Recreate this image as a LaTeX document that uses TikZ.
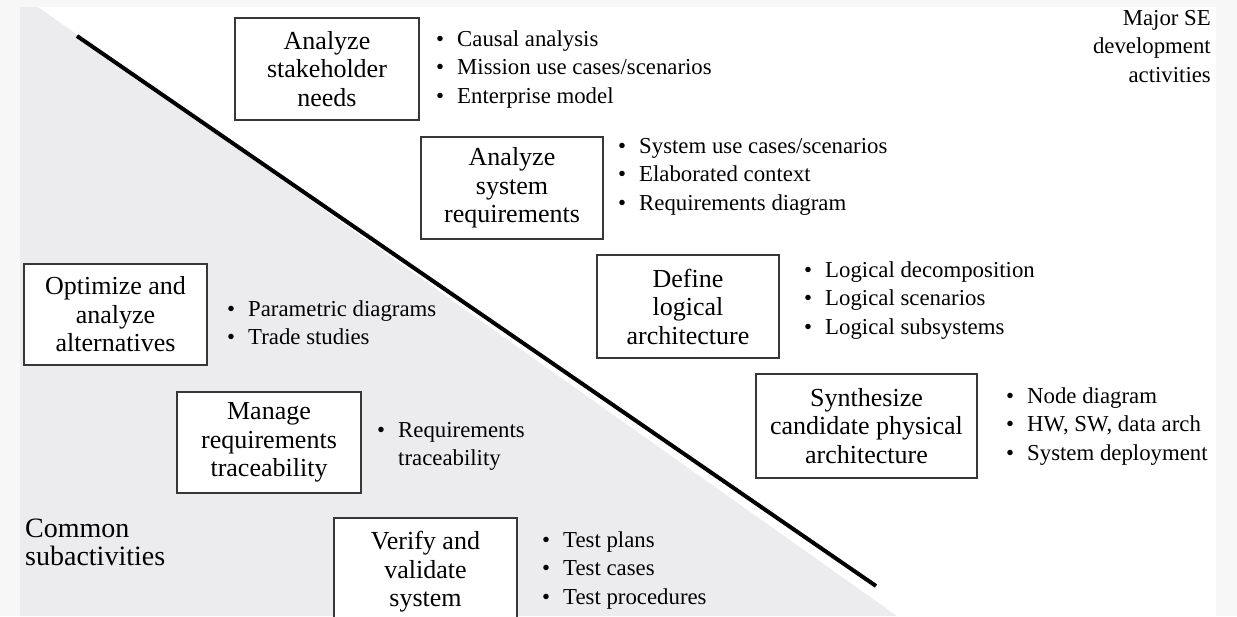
\documentclass[tikz,border=0pt]{standalone}
\usepackage{fontspec}
\setmainfont{Liberation Serif}
\definecolor{framegray}{RGB}{247,247,247}
\definecolor{panelgray}{RGB}{236,236,238}
\definecolor{boxline}{RGB}{55,55,55}
\newcommand\bulletitem{\llap{\textbullet\hspace{13pt}}}
\begin{document}
\begin{tikzpicture}[x=1pt,y=-1pt,
  box/.style={draw=boxline, line width=2.2pt, fill=white, inner sep=0pt,
    align=center, font=\fontsize{26}{28.5}\selectfont},
  items/.style={anchor=base west, inner sep=0pt,
    font=\fontsize{22.8}{28.5}\selectfont},
  caption/.style={inner sep=0pt, font=\fontsize{22.8}{28.5}\selectfont}]
\useasboundingbox (0,0) rectangle (1237,616);
\clip (0,0) rectangle (1237,616);

% page and the shaded region of common subactivities
\fill[framegray] (0,0) rectangle (1237,616);
\fill[white] (20,7) rectangle (1216,616);
\fill[panelgray] (20,7) -- (38,7) -- (897,616) -- (20,616) -- cycle;

% dividing line
\coordinate (ls) at (77,36);
\coordinate (le) at (876,586);
\draw[line width=4pt] (ls) -- (le);

% major development activities
\node[box, minimum width=184pt, minimum height=102pt] (need) at (327,69)
  {Analyze\\stakeholder\\needs};
\node[box, minimum width=182pt, minimum height=102pt] (sysreq) at (512,188)
  {Analyze\\system\\requirements};
\node[box, minimum width=182pt, minimum height=103pt] (logic) at (688,306.5)
  {Define\\logical\\architecture};
\node[box, minimum width=221pt, minimum height=104pt] (phys) at (866.5,426)
  {Synthesize\\candidate physical\\architecture};

% common subactivities
\node[box, minimum width=183pt, minimum height=101pt] (opt) at (115.5,314.5)
  {Optimize and\\analyze\\alternatives};
\node[box, minimum width=184pt, minimum height=101pt] (trace) at (269,442.5)
  {Manage\\requirements\\traceability};
\node[box, minimum width=183pt, minimum height=108pt] (vv) at (425.5,572)
  {Verify and\\validate\\system};

% outputs of each activity
\node[items] (needout) at (457,46) {\begin{tabular}[t]{@{}l@{}}
  \bulletitem Causal analysis\\
  \bulletitem Mission use cases/scenarios\\
  \bulletitem Enterprise model\end{tabular}};
\node[items] (sysreqout) at (639,153) {\begin{tabular}[t]{@{}l@{}}
  \bulletitem System use cases/scenarios\\
  \bulletitem Elaborated context\\
  \bulletitem Requirements diagram\end{tabular}};
\node[items] (logicout) at (825,277) {\begin{tabular}[t]{@{}l@{}}
  \bulletitem Logical decomposition\\
  \bulletitem Logical scenarios\\
  \bulletitem Logical subsystems\end{tabular}};
\node[items] (physout) at (1027,403) {\begin{tabular}[t]{@{}l@{}}
  \bulletitem Node diagram\\
  \bulletitem HW, SW, data arch\\
  \bulletitem System deployment\end{tabular}};
\node[items] (optout) at (248,316) {\begin{tabular}[t]{@{}l@{}}
  \bulletitem Parametric diagrams\\
  \bulletitem Trade studies\end{tabular}};
\node[items] (traceout) at (398,437) {\begin{tabular}[t]{@{}l@{}}
  \bulletitem Requirements\\
  traceability\end{tabular}};
\node[items] (vvout) at (563,547) {\begin{tabular}[t]{@{}l@{}}
  \bulletitem Test plans\\
  \bulletitem Test cases\\
  \bulletitem Test procedures\end{tabular}};

% region captions
\node[caption, anchor=base east] (major) at (1211,25)
  {\begin{tabular}[t]{@{}r@{}}Major SE\\development\\activities\end{tabular}};
\node[caption, anchor=base west, font=\fontsize{28}{28.5}\selectfont] (common) at (25,537)
  {\begin{tabular}[t]{@{}l@{}}Common\\subactivities\end{tabular}};
\end{tikzpicture}
\end{document}
